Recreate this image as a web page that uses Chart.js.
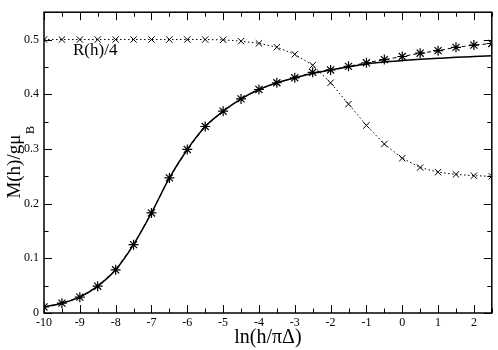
<!DOCTYPE html>
<html><head><meta charset="utf-8">
<script src="https://cdn.jsdelivr.net/npm/chart.js@4/dist/chart.umd.min.js"></script>
<style>html,body{margin:0;padding:0;background:#fff}#wrap{width:498px;height:350px;position:relative}</style>
</head><body><div id="wrap"><canvas id="c"></canvas></div>
<script>
const xValues = [-10,-9.5,-9,-8.5,-8,-7.5,-7,-6.5,-6,-5.5,-5,-4.5,-4,-3.5,-3,-2.5,-2,-1.5,-1,-0.5,0,0.5,1,1.5,2,2.5];
const magnetizationSymbols = [0.011,0.018,0.029,0.049,0.079,0.125,0.183,0.247,0.299,0.341,0.369,0.3915,0.4087,0.421,0.430,0.440,0.4444,0.451,0.4575,0.4633,0.469,0.475,0.4797,0.4857,0.4898,0.4928];
const magnetizationCurve = [0.011,0.018,0.029,0.049,0.079,0.125,0.183,0.247,0.299,0.341,0.369,0.3915,0.4087,0.421,0.430,0.438,0.4444,0.450,0.4555,0.459,0.4615,0.4638,0.4657,0.4675,0.469,0.4704];
const ratioQuarter = [0.5,0.5,0.5,0.5,0.5,0.5,0.5,0.5,0.5,0.5,0.4995,0.497,0.493,0.486,0.473,0.453,0.421,0.382,0.343,0.309,0.283,0.266,0.2575,0.2535,0.251,0.250];
const xTickValues = [-10,-9,-8,-7,-6,-5,-4,-3,-2,-1,0,1,2];
const yTickValues = [0,0.1,0.2,0.3,0.4,0.5];
const xTitle = 'ln(h/πΔ)';
const yTitleMain = 'M(h)/gμ';
const yTitleSub = 'B';
const ratioLabel = 'R(h)/4';

const pts = arr => xValues.map((x,i)=>({x:x,y:arr[i]}));
const serif = 'Liberation Serif';

const frameTicks = {
  id:'frameTicks',
  afterDatasetsDraw(chart){
    const {ctx, chartArea:{left,right,top,bottom}, scales:{x,y}} = chart;
    ctx.save();
    ctx.strokeStyle='#000'; ctx.lineWidth=1;
    ctx.beginPath();
    const xs = chart.options.scales.x, ys = chart.options.scales.y;
    for(let v=xs.min; v<=xs.max+1e-9; v+=0.5){
      const major = Math.abs(v-Math.round(v))<1e-9;
      const L = major?8:4.5;
      const px = Math.round(x.getPixelForValue(v))+0.5;
      ctx.moveTo(px,bottom); ctx.lineTo(px,bottom-L);
      ctx.moveTo(px,top); ctx.lineTo(px,top+L);
    }
    for(let k=0; k*0.05<=ys.max+1e-9; k++){
      const v=k*0.05;
      const major = k%2===0;
      const L = major?8:4.5;
      const py = Math.round(y.getPixelForValue(v))+0.5;
      ctx.moveTo(left,py); ctx.lineTo(left+L,py);
      ctx.moveTo(right,py); ctx.lineTo(right-L,py);
    }
    ctx.stroke();
    ctx.lineWidth=1.5;
    ctx.strokeRect(left,top,right-left,bottom-top);
    ctx.fillStyle='#000';
    ctx.font='17px "'+serif+'"';
    ctx.textBaseline='alphabetic'; ctx.textAlign='left';
    ctx.fillText(ratioLabel, 73, 55);
    ctx.translate(20,(top+bottom)/2);
    ctx.rotate(-Math.PI/2);
    ctx.font='19px "'+serif+'"';
    const wMain = ctx.measureText(yTitleMain).width;
    ctx.font='12px "'+serif+'"';
    const wSub = ctx.measureText(yTitleSub).width;
    const start = -(wMain+wSub)/2;
    ctx.font='19px "'+serif+'"';
    ctx.fillText(yTitleMain, start, 0);
    ctx.font='12px "'+serif+'"';
    ctx.fillText(yTitleSub, start+wMain+0.5, 14);
    ctx.restore();
  }
};

new Chart(document.getElementById('c'), {
  type:'line',
  data:{datasets:[
    {label:'curve', data:pts(magnetizationCurve), borderColor:'#000', borderWidth:1.5, pointRadius:0, cubicInterpolationMode:'monotone', fill:false, order:1},
    {label:'symbols', data:pts(magnetizationSymbols), borderColor:'#000', borderWidth:1, borderDash:[4,3], pointStyle:'star', pointRadius:5, pointBorderColor:'#000', pointBorderWidth:1.2, fill:false, order:2},
    {label:'ratio', data:pts(ratioQuarter), borderColor:'#000', borderWidth:1, borderDash:[1.5,2.5], pointStyle:'crossRot', pointRadius:4.5, pointBorderColor:'#000', pointBorderWidth:1, fill:false, order:3}
  ]},
  options:{
    responsive:true, maintainAspectRatio:false, animation:false, devicePixelRatio:1,
    layout:{padding:{top:1,right:6,left:0,bottom:0}},
    plugins:{legend:{display:false}, tooltip:{enabled:false}},
    scales:{
      x:{type:'linear', min:-10, max:2.5,
        afterBuildTicks:s=>{s.ticks = xTickValues.map(v=>({value:v}));},
        afterFit:s=>{s.height=37;},
        grid:{display:false, drawTicks:false}, border:{display:false},
        ticks:{font:{family:serif,size:12}, color:'#000', padding:3, maxRotation:0, autoSkip:false, callback:v=>String(v)},
        title:{display:true, text:xTitle, font:{family:serif,size:20}, color:'#000', padding:0}
      },
      y:{type:'linear', min:0, max:0.55,
        afterBuildTicks:s=>{s.ticks = yTickValues.map(v=>({value:v}));},
        afterFit:s=>{s.width=44;},
        grid:{display:false, drawTicks:false}, border:{display:false},
        ticks:{font:{family:serif,size:12}, color:'#000', padding:5, autoSkip:false, callback:v=> v===0?'0':v.toFixed(1)}
      }
    }
  },
  plugins:[frameTicks]
});
</script></body></html>
